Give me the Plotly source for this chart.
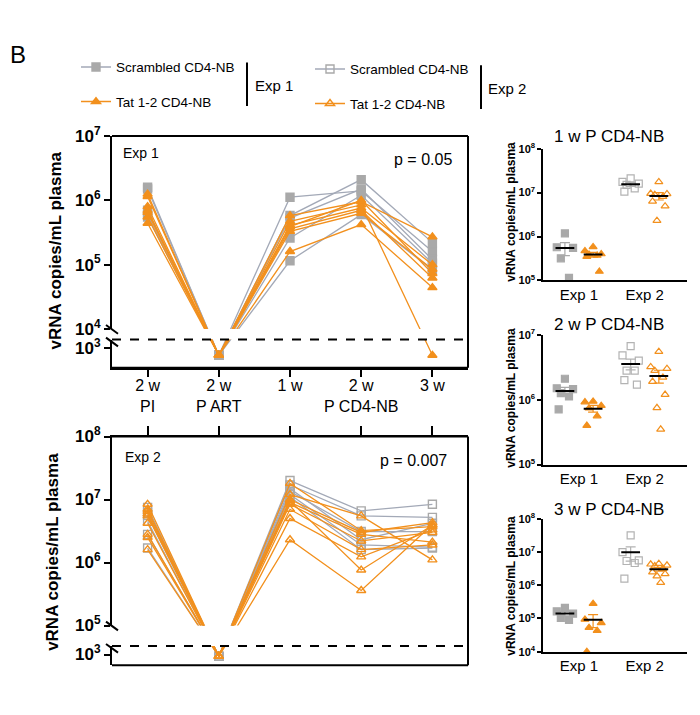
import numpy as np
import plotly.graph_objects as go

W, H = 700, 715
def px(x): return x / W
def py(y): return 1 - y / H

FONT = "Liberation Sans, Arial, sans-serif"
GRAY_M = "#a9a9a9"
GRAY_L = "#a3a9b7"
ORANGE = "#f2901d"

# ---------------- data ----------------
timepoints = ["2 w<br>PI", "2 w<br>P ART", "1 w", "2 w<br>P CD4-NB", "3 w"]

# Exp 1 longitudinal viral loads (None = below detection)
exp1_scrambled = [
    [1.6e6, None, 1.12e6, 1.4e6, 1.6e5],
    [1.5e6, None, 5.8e5, 2.1e6, 2.2e5],
    [7.0e5, None, 5.3e5, 1.5e6, 1.2e5],
    [6.0e5, None, 2.6e5, 1.2e6, 1.05e5],
    [5.5e5, None, 1.15e5, 6.0e5, 8.3e4],
]
exp1_tat = [
    [1.25e6, None, 5.8e5, 9.5e5, 2.7e5],
    [1.15e6, None, 4.7e5, 8.5e5, None],
    [8.0e5, None, 4.1e5, 7.6e5, 1.0e5],
    [7.0e5, None, 3.9e5, 1.0e6, 7.3e4],
    [6.5e5, None, 3.6e5, 7.0e5, 6.2e4],
    [5.5e5, None, 3.3e5, 6.3e5, 8.5e4],
    [4.4e5, None, 1.6e5, 4.2e5, 4.4e4],
]
# Exp 2 longitudinal viral loads
exp2_scrambled = [
    [7.5e6, None, 2.0e7, 6.6e6, 8.4e6],
    [6.3e6, None, 1.7e7, 5.5e6, 5.2e6],
    [5.6e6, None, 1.5e7, 2.3e6, 4.2e6],
    [4.5e6, None, 1.34e7, 3.1e6, 3.1e6],
    [2.8e6, None, 1.2e7, 1.9e6, 1.75e6],
    [1.7e6, None, 1.1e7, 1.6e6, 1.7e6],
]
exp2_tat = [
    [8.4e6, None, 1.8e7, 3.2e6, 3.7e6],
    [7.0e6, None, 1.2e7, 5.5e6, 1.1e6],
    [6.5e6, None, 1.0e7, 3.0e6, 4.3e6],
    [5.9e6, None, 9.0e6, 2.8e6, 2.1e6],
    [5.5e6, None, 8.4e6, 2.2e6, 3.0e6],
    [4.2e6, None, 7.0e6, 1.6e6, 1.9e6],
    [2.8e6, None, 5.0e6, 1.23e6, 3.3e6],
    [2.5e6, None, 9.5e6, 7.6e5, 3.9e6],
    [1.6e6, None, 2.3e6, 3.6e5, 4.0e6],
]

# Right-hand dot plots
r1_exp1_scr = [1.18e6, 5.7e5, 5.5e5, 3.2e5, 1.15e5]
r1_exp1_tat = [5.8e5, 4.7e5, 4.0e5, 3.9e5, 3.7e5, 3.5e5, 1.6e5]
r1_exp2_scr = [2.1e7, 1.75e7, 1.6e7, 1.5e7, 1.25e7, 1.05e7]
r1_exp2_tat = [1.75e7, 9.5e6, 9.3e6, 9.0e6, 8.1e6, 6.3e6, 4.9e6, 2.3e6]

r2_exp1_scr = [2.1e6, 1.5e6, 1.45e6, 1.26e6, 1.12e6, 7.1e5]
r2_exp1_tat = [9.4e5, 9.2e5, 8.1e5, 7.4e5, 5.6e5, 4.0e5]
r2_exp2_scr = [6.7e6, 4.8e6, 4.0e6, 2.8e6, 2.8e6, 2.0e6, 1.7e6]
r2_exp2_tat = [5.5e6, 3.2e6, 3.0e6, 2.8e6, 2.2e6, 1.9e6, 1.2e6, 7.5e5, 3.5e5]

r3_exp1_scr = [2.1e5, 1.65e5, 1.4e5, 1.05e5, 9.0e4]
r3_exp1_tat = [2.8e5, 9.4e4, 7.4e4, 5.3e4, 4.3e4, 1.0e4]
r3_exp2_scr = [3.2e7, 1.0e7, 5.6e6, 5.4e6, 4.7e6, 1.6e6]
r3_exp2_tat = [4.5e6, 4.3e6, 4.0e6, 3.8e6, 3.2e6, 2.5e6, 2.2e6, 1.9e6, 1.2e6]

panel_titles = ["1 w P CD4-NB", "2 w P CD4-NB", "3 w P CD4-NB"]
exp_labels = ["Exp 1", "Exp 2"]

# ---------------- geometry of broken axes ----------------
TOPG = dict(top=128, brk=327, dash=338, bottom=367, rng=(4, 7), und=3.59, tick=3.70)
BOTG = dict(top=438, brk=633, dash=654, bottom=674, rng=(5, 8), und=4.51, tick=4.54)

def lower_range(g):
    ppd = (g["brk"] - g["top"]) / (g["rng"][1] - g["rng"][0])
    hi = g["rng"][0] - (g["dash"] - g["brk"]) / ppd
    lo = g["rng"][0] - (g["bottom"] - g["brk"]) / ppd
    return [lo, hi]

fig = go.Figure()

def add_long(group, lcol, mcol, symbol, xa, ya_up, ya_lo, und_log):
    und = 10 ** und_log
    for animal in group:
        yv = [und if v is None else v for v in animal]
        for ya in (ya_up, ya_lo):
            fig.add_trace(go.Scatter(
                x=list(range(len(timepoints))), y=yv, mode="lines+markers",
                xaxis=xa, yaxis=ya, showlegend=False, hoverinfo="skip",
                line=dict(color=lcol, width=1.3),
                marker=dict(symbol=symbol, size=8, color=mcol,
                            line=dict(color=mcol, width=1.4))))

add_long(exp1_scrambled, GRAY_L, GRAY_M, "square", "x", "y", "y2", TOPG["und"])
add_long(exp1_tat, ORANGE, ORANGE, "triangle-up", "x", "y", "y2", TOPG["und"])
add_long(exp2_scrambled, GRAY_L, GRAY_M, "square-open", "x2", "y3", "y4", BOTG["und"])
add_long(exp2_tat, ORANGE, ORANGE, "triangle-up-open", "x2", "y3", "y4", BOTG["und"])

# ---------------- dot plots ----------------
OFFS = [0.0, -0.26, 0.26, -0.13, 0.13, -0.2, 0.2, -0.06, 0.06]
XPOS = [0.7, 1.6, 2.8, 3.7]

def add_dots(vals, xc, col, symbol, xa, ya):
    vals = np.array(vals, dtype=float)
    order = np.argsort(-vals)
    xs = np.empty(len(vals))
    for rank, idx in enumerate(order):
        xs[idx] = xc + OFFS[rank % len(OFFS)]
    fig.add_trace(go.Scatter(x=xs, y=vals, mode="markers", xaxis=xa, yaxis=ya,
                             showlegend=False, hoverinfo="skip", cliponaxis=False,
                             marker=dict(symbol=symbol, size=7, color=col,
                                         line=dict(color=col, width=1.2))))
    m = vals.mean()
    sem = vals.std(ddof=1) / np.sqrt(len(vals))
    fig.add_trace(go.Scatter(x=[xc], y=[m], mode="markers", xaxis=xa, yaxis=ya,
                             showlegend=False, hoverinfo="skip",
                             marker=dict(size=1, opacity=0),
                             error_y=dict(type="data", array=[sem], arrayminus=[sem],
                                          color=col, thickness=1.2, width=5)))
    fig.add_trace(go.Scatter(x=[xc - 0.3, xc + 0.3], y=[m, m], mode="lines",
                             xaxis=xa, yaxis=ya, showlegend=False, hoverinfo="skip",
                             line=dict(color="black", width=2)))

right_sets = [
    ("x3", "y5", [r1_exp1_scr, r1_exp1_tat, r1_exp2_scr, r1_exp2_tat]),
    ("x4", "y6", [r2_exp1_scr, r2_exp1_tat, r2_exp2_scr, r2_exp2_tat]),
    ("x5", "y7", [r3_exp1_scr, r3_exp1_tat, r3_exp2_scr, r3_exp2_tat]),
]
styles = [(GRAY_M, "square"), (ORANGE, "triangle-up"),
          ("#b3b3b3", "square-open"), (ORANGE, "triangle-up-open")]
for xa, ya, groups in right_sets:
    for g, xc, (col, sym) in zip(groups, XPOS, styles):
        add_dots(g, xc, col, sym, xa, ya)

# ---------------- legend entries ----------------
leg = [("Scrambled CD4-NB", GRAY_L, GRAY_M, "square", "legend", "a"),
       ("Tat 1-2 CD4-NB", ORANGE, ORANGE, "triangle-up", "legend", "b"),
       ("Scrambled CD4-NB", GRAY_L, GRAY_M, "square-open", "legend2", "c"),
       ("Tat 1-2 CD4-NB", ORANGE, ORANGE, "triangle-up-open", "legend2", "d")]
for name, lc, mc, sym, lg, grp in leg:
    fig.add_trace(go.Scatter(x=[None], y=[None], mode="lines+markers", name=name,
                             legend=lg, legendgroup=grp, xaxis="x", yaxis="y",
                             line=dict(color=lc, width=1.5),
                             marker=dict(symbol=sym, size=8, color=mc,
                                         line=dict(color=mc, width=1.4))))

# ---------------- axes ----------------
def sup(e):
    return f"<b>10<sup>{e}</sup></b>"

ax_common = dict(showgrid=False, zeroline=False, showline=True, linecolor="black",
                 linewidth=2, ticks="outside", tickcolor="black", tickwidth=2)

layout_axes = {}
for i, (xn, yu, yl, g) in enumerate([("xaxis", "yaxis", "yaxis2", TOPG),
                                     ("xaxis2", "yaxis3", "yaxis4", BOTG)]):
    lo_anchor = "y2" if i == 0 else "y3"
    xref = "x" if i == 0 else "x2"
    xa = dict(ax_common, domain=[px(112), px(468)], range=[-0.5, 4.5],
              anchor=lo_anchor, tickvals=list(range(5)), ticktext=timepoints,
              tickfont=dict(size=16, color="black", family=FONT))
    if i == 0:
        xa.update(ticklen=7, side="bottom", ticklabelstandoff=-5)
    else:
        xa.update(ticklen=9, side="top", showticklabels=False)
    layout_axes[xn] = xa
    r0, r1 = g["rng"]
    layout_axes[yu] = dict(ax_common, domain=[py(g["brk"]), py(g["top"])], type="log",
                           range=[r0, r1], anchor=xref, ticklen=6,
                           tickvals=[10 ** e for e in range(r0, r1 + 1)],
                           ticktext=[sup(e) for e in range(r0, r1 + 1)],
                           tickfont=dict(size=17, color="black", family=FONT))
    layout_axes[yl] = dict(ax_common, domain=[py(g["bottom"]), py(g["dash"])], type="log",
                           range=lower_range(g), anchor=xref, ticklen=6,
                           tickvals=[10 ** g["tick"]], ticktext=[sup(3)],
                           tickfont=dict(size=17, color="black", family=FONT))

right_dom = [(141, 277, (5, 8)), (333, 467, (5, 7)), (523, 660, (4, 8))]
for k, (t, b, (r0, r1)) in enumerate(right_dom):
    xn = f"xaxis{k + 3}"
    yn = f"yaxis{k + 5}"
    layout_axes[xn] = dict(showgrid=False, zeroline=False, showline=True, linecolor="black",
                           linewidth=1.5, domain=[px(543), px(687)], range=[0, 4.6],
                           anchor=f"y{k + 5}", ticks="", tickvals=[1.15, 3.25],
                           ticktext=exp_labels, tickfont=dict(size=15, color="black", family=FONT))
    layout_axes[yn] = dict(showgrid=False, zeroline=False, showline=True, linecolor="black",
                           linewidth=1.5, domain=[py(b), py(t)], type="log", range=[r0, r1],
                           anchor=f"x{k + 3}", ticks="outside", ticklen=4, tickwidth=1.5,
                           tickcolor="black", tickvals=[10 ** e for e in range(r0, r1 + 1)],
                           ticktext=[sup(e) for e in range(r0, r1 + 1)],
                           tickfont=dict(size=11, color="black", family=FONT))

# ---------------- shapes ----------------
shapes = []
def line(x0, y0, x1, y1, w=2, dash=None, color="black"):
    d = dict(type="line", xref="paper", yref="paper", x0=px(x0), y0=py(y0), x1=px(x1), y1=py(y1),
             line=dict(color=color, width=w))
    if dash:
        d["line"]["dash"] = dash
    shapes.append(d)

for g in (TOPG, BOTG):
    line(112, g["top"], 468, g["top"])
    line(468, g["top"], 468, g["bottom"])
    line(112, g["bottom"], 468, g["bottom"])
    line(112, g["dash"], 468, g["dash"], dash="dash")
    line(106, g["brk"] - 4, 118, g["brk"] + 5)
    line(106, g["dash"] - 2, 118, g["dash"] + 7)
# legend brackets
line(247, 52, 247, 97)
line(481, 55, 481, 100)

# ---------------- annotations ----------------
ann = []
def text(x, y, s, size, xanchor="left", angle=0):
    ann.append(dict(x=px(x), y=py(y), xref="paper", yref="paper", text=s, showarrow=False,
                    xanchor=xanchor, yanchor="middle", textangle=angle,
                    font=dict(size=size, family=FONT, color="black")))

text(8, 44, "B", 24)
text(253, 76, "Exp 1", 15)
text(486, 79, "Exp 2", 15)
text(121, 145, "Exp 1", 14)
text(454, 152, "p = 0.05", 16, xanchor="right")
text(123, 459, "Exp 2", 14)
text(449, 463, "p = 0.007", 16, xanchor="right")
text(55, 246, "<b>vRNA copies/mL plasma</b>", 17, xanchor="center", angle=-90)
text(53, 557, "<b>vRNA copies/mL plasma</b>", 17, xanchor="center", angle=-90)
for yc, tc, ttl in zip([206, 398, 592], [128, 322, 513], panel_titles):
    text(511, yc, "<b>vRNA copies/mL plasma</b>", 12, xanchor="center", angle=-90)
    text(609, tc, ttl, 17, xanchor="center")

fig.update_layout(
    width=W, height=H, margin=dict(l=0, r=0, t=0, b=0),
    plot_bgcolor="white", paper_bgcolor="white",
    font=dict(family=FONT, color="black"),
    shapes=shapes, annotations=ann,
    legend=dict(x=px(76), y=py(41), xanchor="left", yanchor="top",
                font=dict(family=FONT, size=13.5, color="black"),
                tracegroupgap=14, bgcolor="rgba(0,0,0,0)", itemwidth=30),
    legend2=dict(x=px(310), y=py(43), xanchor="left", yanchor="top",
                 font=dict(family=FONT, size=13.5, color="black"),
                 tracegroupgap=14, bgcolor="rgba(0,0,0,0)", itemwidth=30),
    **layout_axes,
)

fig.write_html("out.html")
